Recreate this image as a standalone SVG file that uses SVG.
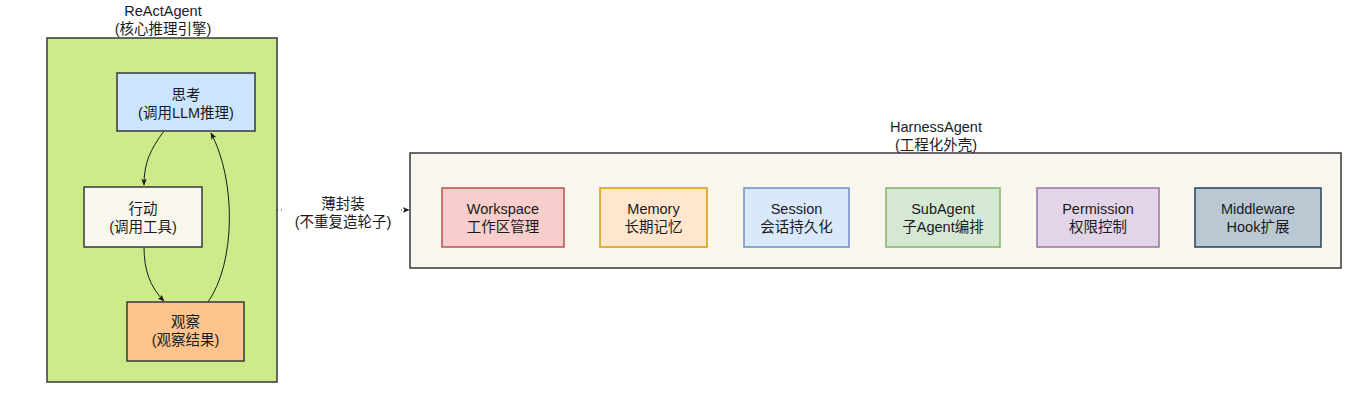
<svg xmlns="http://www.w3.org/2000/svg" width="1366" height="420" viewBox="0 0 1366 420">
<style>
text{font-family:"Liberation Sans","Noto Sans CJK SC",sans-serif;font-size:14.5px;fill:#1a1a1a;text-anchor:middle}
.box{stroke-width:1.5}
.dk{stroke:#36393d}
.edge{fill:none;stroke:#1a1a1a;stroke-width:1}
</style>
<defs>
<marker id="ah" viewBox="0 0 10 10" refX="9" refY="5" markerWidth="7" markerHeight="7" orient="auto" markerUnits="userSpaceOnUse">
<path d="M0,1 L10,5 L0,9 L2.5,5 Z" fill="#1a1a1a"/>
</marker>
</defs>
<rect width="1366" height="420" fill="#fff"/>
<g id="react">
<rect class="box dk" x="47" y="38" width="230" height="344" fill="#cdeb8b"/>
<text x="163" y="16">ReActAgent</text>
<text x="163" y="34">(核心推理引擎)</text>
</g>
<g id="harness">
<rect class="box dk" x="410" y="153" width="931" height="115" fill="#f9f7ed"/>
<text x="936" y="132">HarnessAgent</text>
<text x="936" y="150">(工程化外壳)</text>
</g>
<g id="connectors">
<path class="edge" d="M164,131 C150,150 144,163 144,185" marker-end="url(#ah)"/>
<path class="edge" d="M144,247 C144,270 150,287 164,301" marker-end="url(#ah)"/>
<path class="edge" d="M208,302 C236,262 236,180 211,133" marker-end="url(#ah)"/>
<path class="edge" d="M277,210 L409,210" stroke-dasharray="1 3" marker-end="url(#ah)"/>
<rect x="285" y="194" width="114" height="38" fill="#fff"/>
<text x="343" y="209">薄封装</text>
<text x="343" y="227">(不重复造轮子)</text>
</g>
<g id="think">
<rect class="box dk" x="117" y="73" width="138" height="58" fill="#cce5ff"/>
<text x="186" y="100">思考</text>
<text x="186" y="118">(调用LLM推理)</text>
</g>
<g id="act">
<rect class="box dk" x="84" y="187" width="118" height="60" fill="#f9f7ed"/>
<text x="143" y="214">行动</text>
<text x="143" y="232">(调用工具)</text>
</g>
<g id="observe">
<rect class="box dk" x="127" y="302" width="117" height="59" fill="#ffc48b"/>
<text x="185.5" y="327">观察</text>
<text x="185.5" y="345">(观察结果)</text>
</g>
<g id="workspace">
<rect class="box" x="442" y="188" width="122" height="59" fill="#f8cecc" stroke="#b85450"/>
<text x="503" y="214">Workspace</text>
<text x="503" y="232">工作区管理</text>
</g>
<g id="memory">
<rect class="box" x="600" y="188" width="107" height="59" fill="#ffe6cc" stroke="#d79b00"/>
<text x="653.5" y="214">Memory</text>
<text x="653.5" y="232">长期记忆</text>
</g>
<g id="session">
<rect class="box" x="744" y="188" width="105" height="59" fill="#dae8fc" stroke="#6c8ebf"/>
<text x="796.5" y="214">Session</text>
<text x="796.5" y="232">会话持久化</text>
</g>
<g id="subagent">
<rect class="box" x="886" y="188" width="114" height="59" fill="#d5e8d4" stroke="#82b366"/>
<text x="943" y="214">SubAgent</text>
<text x="943" y="232">子Agent编排</text>
</g>
<g id="permission">
<rect class="box" x="1037" y="188" width="122" height="59" fill="#e1d5e7" stroke="#9673a6"/>
<text x="1098" y="214">Permission</text>
<text x="1098" y="232">权限控制</text>
</g>
<g id="middleware">
<rect class="box" x="1195" y="188" width="126" height="59" fill="#bac8d3" stroke="#23445d"/>
<text x="1258" y="214">Middleware</text>
<text x="1258" y="232">Hook扩展</text>
</g>
</svg>
